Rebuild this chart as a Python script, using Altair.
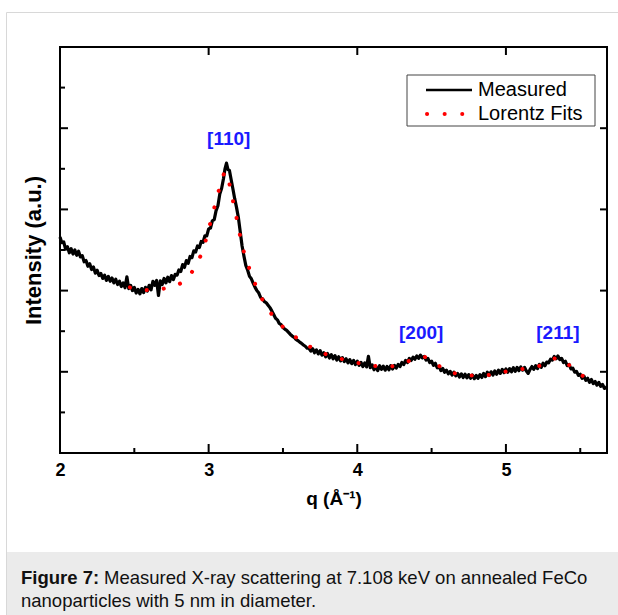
import altair as alt
import pandas as pd

# ---------------- data ----------------
q_meas = [
    2.0000, 2.0125, 2.0250, 2.0375, 2.0500, 2.0625, 2.0750, 2.0875,
    2.1000, 2.1125, 2.1250, 2.1375, 2.1500, 2.1625, 2.1750, 2.1875,
    2.2000, 2.2125, 2.2250, 2.2375, 2.2500, 2.2625, 2.2750, 2.2875,
    2.3000, 2.3125, 2.3250, 2.3375, 2.3500, 2.3625, 2.3750, 2.3875,
    2.4000, 2.4125, 2.4250, 2.4375, 2.4500, 2.4625, 2.4750, 2.4875,
    2.5000, 2.5125, 2.5250, 2.5375, 2.5500, 2.5625, 2.5750, 2.5875,
    2.6000, 2.6125, 2.6250, 2.6375, 2.6500, 2.6625, 2.6750, 2.6875,
    2.7000, 2.7125, 2.7250, 2.7375, 2.7500, 2.7625, 2.7750, 2.7875,
    2.8000, 2.8125, 2.8250, 2.8375, 2.8500, 2.8625, 2.8750, 2.8875,
    2.9000, 2.9125, 2.9250, 2.9375, 2.9500, 2.9625, 2.9750, 2.9875,
    3.0000, 3.0125, 3.0250, 3.0375, 3.0500, 3.0625, 3.0750, 3.0875,
    3.1000, 3.1100, 3.1200, 3.1300, 3.1400, 3.1500, 3.1625, 3.1750,
    3.1875, 3.2000, 3.2125, 3.2250, 3.2375, 3.2500, 3.2625, 3.2750,
    3.2875, 3.3000, 3.3125, 3.3250, 3.3375, 3.3500, 3.3625, 3.3750,
    3.3875, 3.4000, 3.4125, 3.4250, 3.4375, 3.4500, 3.4625, 3.4750,
    3.4875, 3.5000, 3.5125, 3.5250, 3.5375, 3.5500, 3.5625, 3.5750,
    3.5875, 3.6000, 3.6125, 3.6250, 3.6375, 3.6500, 3.6625, 3.6750,
    3.6875, 3.7000, 3.7125, 3.7250, 3.7375, 3.7500, 3.7625, 3.7750,
    3.7875, 3.8000, 3.8125, 3.8250, 3.8375, 3.8500, 3.8625, 3.8750,
    3.8875, 3.9000, 3.9125, 3.9250, 3.9375, 3.9500, 3.9625, 3.9750,
    3.9875, 4.0000, 4.0125, 4.0250, 4.0375, 4.0500, 4.0625, 4.0750,
    4.0875, 4.1000, 4.1125, 4.1250, 4.1375, 4.1500, 4.1625, 4.1750,
    4.1875, 4.2000, 4.2125, 4.2250, 4.2375, 4.2500, 4.2625, 4.2750,
    4.2875, 4.3000, 4.3125, 4.3250, 4.3375, 4.3500, 4.3625, 4.3750,
    4.3875, 4.4000, 4.4125, 4.4250, 4.4375, 4.4500, 4.4625, 4.4750,
    4.4875, 4.5000, 4.5125, 4.5250, 4.5375, 4.5500, 4.5625, 4.5750,
    4.5875, 4.6000, 4.6125, 4.6250, 4.6375, 4.6500, 4.6625, 4.6750,
    4.6875, 4.7000, 4.7125, 4.7250, 4.7375, 4.7500, 4.7625, 4.7750,
    4.7875, 4.8000, 4.8125, 4.8250, 4.8375, 4.8500, 4.8625, 4.8750,
    4.8875, 4.9000, 4.9125, 4.9250, 4.9375, 4.9500, 4.9625, 4.9750,
    4.9875, 5.0000, 5.0125, 5.0250, 5.0375, 5.0500, 5.0625, 5.0750,
    5.0875, 5.1000, 5.1125, 5.1250, 5.1375, 5.1500, 5.1625, 5.1750,
    5.1875, 5.2000, 5.2125, 5.2250, 5.2375, 5.2500, 5.2625, 5.2750,
    5.2875, 5.3000, 5.3125, 5.3250, 5.3375, 5.3500, 5.3625, 5.3750,
    5.3875, 5.4000, 5.4125, 5.4250, 5.4375, 5.4500, 5.4625, 5.4750,
    5.4875, 5.5000, 5.5125, 5.5250, 5.5375, 5.5500, 5.5625, 5.5750,
    5.5875, 5.6000, 5.6125, 5.6250, 5.6375, 5.6500, 5.6625, 5.6750,
]
i_meas = [
    5.32, 5.18, 5.20, 5.02, 5.08, 4.93, 5.03, 4.90,
    5.00, 4.87, 4.97, 4.83, 4.86, 4.71, 4.74, 4.60,
    4.66, 4.52, 4.58, 4.43, 4.50, 4.37, 4.42, 4.30,
    4.38, 4.25, 4.35, 4.23, 4.31, 4.19, 4.28, 4.15,
    4.23, 4.10, 4.19, 4.07, 4.34, 4.05, 4.13, 4.00,
    4.08, 3.94, 4.03, 3.92, 4.05, 3.95, 4.08, 3.99,
    4.13, 4.02, 4.23, 4.13, 4.25, 3.88, 4.24, 4.15,
    4.30, 4.19, 4.33, 4.22, 4.37, 4.27, 4.40, 4.38,
    4.51, 4.47, 4.64, 4.57, 4.74, 4.67, 4.84, 4.81,
    4.98, 4.95, 5.10, 5.06, 5.21, 5.19, 5.35, 5.35,
    5.52, 5.54, 5.72, 5.75, 5.97, 6.09, 6.38, 6.52,
    6.76, 7.00, 7.14, 6.98, 6.96, 6.76, 6.52, 6.27,
    6.05, 5.80, 5.45, 5.10, 4.85, 4.62, 4.50, 4.35,
    4.29, 4.18, 4.08, 4.00, 3.94, 3.83, 3.80, 3.73,
    3.70, 3.64, 3.58, 3.50, 3.41, 3.32, 3.28, 3.19,
    3.16, 3.09, 3.05, 3.02, 2.97, 2.92, 2.88, 2.85,
    2.80, 2.77, 2.73, 2.70, 2.66, 2.63, 2.58, 2.58,
    2.51, 2.57, 2.47, 2.54, 2.44, 2.52, 2.41, 2.47,
    2.37, 2.45, 2.34, 2.42, 2.32, 2.40, 2.29, 2.37,
    2.27, 2.35, 2.25, 2.32, 2.22, 2.30, 2.20, 2.28,
    2.18, 2.26, 2.16, 2.23, 2.13, 2.22, 2.12, 2.38,
    2.10, 2.17, 2.05, 2.13, 2.03, 2.15, 2.06, 2.14,
    2.04, 2.13, 2.05, 2.15, 2.07, 2.16, 2.09, 2.18,
    2.13, 2.23, 2.18, 2.28, 2.23, 2.33, 2.28, 2.36,
    2.31, 2.39, 2.33, 2.41, 2.34, 2.38, 2.29, 2.33,
    2.23, 2.26, 2.16, 2.21, 2.10, 2.13, 2.03, 2.08,
    1.99, 2.04, 1.95, 2.01, 1.92, 1.99, 1.90, 1.96,
    1.87, 1.95, 1.86, 1.94, 1.85, 1.93, 1.84, 1.92,
    1.83, 1.91, 1.84, 1.93, 1.86, 1.96, 1.88, 1.99,
    1.91, 2.00, 1.92, 2.02, 1.94, 2.04, 1.96, 2.06,
    1.98, 2.07, 1.99, 2.08, 2.00, 2.10, 2.01, 2.11,
    2.03, 2.12, 2.04, 2.11, 2.02, 1.96, 2.06, 2.13,
    2.06, 2.15, 2.08, 2.18, 2.11, 2.21, 2.15, 2.24,
    2.22, 2.31, 2.29, 2.38, 2.32, 2.39, 2.30, 2.33,
    2.23, 2.26, 2.15, 2.18, 2.07, 2.09, 1.99, 2.01,
    1.91, 1.94, 1.84, 1.89, 1.79, 1.84, 1.74, 1.81,
    1.71, 1.76, 1.67, 1.74, 1.64, 1.69, 1.59, 1.63,
]
q_fit = [2.47, 2.55, 2.62, 2.70, 2.76, 2.82, 2.87, 2.90, 2.93, 2.96,
         2.99, 3.02, 3.05, 3.08, 3.10, 3.115, 3.13, 3.15, 3.17, 3.19,
         3.21, 3.23, 3.25, 3.28, 3.32, 3.37, 3.42, 3.48, 3.55, 3.62,
         3.70, 3.80, 3.90, 4.00, 4.10, 4.20, 4.28, 4.35, 4.40, 4.44,
         4.48, 4.53, 4.58, 4.65, 4.75, 4.85, 4.95, 5.05, 5.15, 5.22,
         5.28, 5.33, 5.36, 5.40, 5.45, 5.50, 5.55]
i_fit = [4.08, 4.02, 4.01, 4.05, 4.11, 4.20, 4.37, 4.53, 4.74, 4.98,
         5.37, 5.79, 6.21, 6.62, 6.85, 6.93, 6.78, 6.45, 6.10, 5.75,
         5.38, 5.05, 4.80, 4.48, 4.10, 3.72, 3.44, 3.18, 2.95, 2.77,
         2.58, 2.42, 2.31, 2.22, 2.15, 2.13, 2.17, 2.27, 2.34, 2.37,
         2.33, 2.20, 2.07, 1.97, 1.91, 1.91, 1.97, 2.04, 2.09, 2.14,
         2.22, 2.33, 2.34, 2.25, 2.08, 1.94, 1.83]

peak_labels = ["[110]", "[200]", "[211]"]
peak_q = [3.135, 4.43, 5.35]
peak_i = [7.73, 2.96, 2.96]

x_major = [2, 3, 4, 5]
x_minor = [2.5, 3.5, 4.5, 5.5]
x_top = [3, 4, 5]
y_major = [2, 4, 6, 8]
y_minor = [1, 3, 5, 7, 9]

series_names = ["Measured", "Lorentz Fits"]
caption_bold = ["Figure 7:"]
caption_l1 = ["Measured X-ray scattering at 7.108 keV on annealed FeCo"]
caption_l2 = ["nanoparticles with 5 nm in diameter."]

# ---------------- layout ----------------
W, H = 547, 406
PL, PT = 60, 47
FONT = "Liberation Sans"
xs = alt.Scale(domain=[2, 5.68], nice=False, zero=False)
ys = alt.Scale(domain=[0, 10], nice=False, zero=False)

X_AXIS = alt.Axis(
    values=x_major, format="d", ticks=False, domain=False, grid=False,
    labelFont=FONT, labelFontSize=18, labelFontWeight="bold", labelColor="black",
    labelPadding=8, labelFlush=False,
    title="q (Å⁻¹)", titleFont=FONT, titleFontSize=19, titleFontWeight="bold",
    titleColor="black", titlePadding=10)
Y_AXIS = alt.Axis(
    labels=False, ticks=False, domain=False, grid=False,
    title="Intensity (a.u.)", titleFont=FONT, titleFontSize=22, titleFontWeight="bold",
    titleColor="black", titlePadding=15)


def X(field):
    return alt.X(f"{field}:Q", scale=xs, axis=X_AXIS)


def Y(field):
    return alt.Y(f"{field}:Q", scale=ys, axis=Y_AXIS)


meas = pd.DataFrame({"q": q_meas, "I": i_meas})
fit = pd.DataFrame({"q": q_fit, "I": i_fit})
peaks = pd.DataFrame({"q": peak_q, "I": peak_i, "label": peak_labels})


def one(txt):
    return pd.DataFrame({"t": txt})


# figure card outline and caption band
card = alt.Chart(one([""])).mark_rect(
    fill="transparent", stroke="#d8d8d8", strokeWidth=1
).encode(
    x=alt.value(6.5 - PL), x2=alt.value(640 - PL),
    y=alt.value(12.5 - PT), y2=alt.value(640 - PT),
)
band = alt.Chart(one([""])).mark_rect(fill="#ebebeb").encode(
    x=alt.value(7 - PL), x2=alt.value(640 - PL),
    y=alt.value(552 - PT), y2=alt.value(640 - PT),
)
cap_b = alt.Chart(one(caption_bold)).mark_text(
    font=FONT, fontSize=18.5, fontWeight="bold", align="left", baseline="middle", color="#111"
).encode(x=alt.value(21 - PL), y=alt.value(578 - PT), text="t:N")
cap_1 = alt.Chart(one(caption_l1)).mark_text(
    font=FONT, fontSize=18.5, align="left", baseline="middle", color="#111"
).encode(x=alt.value(104 - PL), y=alt.value(578 - PT), text="t:N")
cap_2 = alt.Chart(one(caption_l2)).mark_text(
    font=FONT, fontSize=18.5, align="left", baseline="middle", color="#111"
).encode(x=alt.value(21 - PL), y=alt.value(601 - PT), text="t:N")

# data layers
line = alt.Chart(meas).mark_line(color="black", strokeWidth=3.2, strokeJoin="round").encode(
    x=X("q"), y=Y("I"))
fitline = alt.Chart(fit).mark_line(
    color="#ff0000", strokeWidth=4, strokeDash=[0.1, 17], strokeCap="round", interpolate="monotone"
).encode(x=X("q"), y=Y("I"))
labels = alt.Chart(peaks).mark_text(
    font=FONT, fontSize=19, fontWeight="bold", color="#1a1aff", baseline="middle"
).encode(x=X("q"), y=Y("I"), text="label:N")


def xticks(vals, y0, y1):
    return alt.Chart(pd.DataFrame({"q": vals})).mark_rule(color="black", strokeWidth=2).encode(
        x=X("q"), y=alt.value(y0), y2=alt.value(y1))


def yticks(vals, x0, x1):
    return alt.Chart(pd.DataFrame({"I": vals})).mark_rule(color="black", strokeWidth=2).encode(
        y=Y("I"), x=alt.value(x0), x2=alt.value(x1))


ticks = [
    xticks(x_major, H, H - 9),
    xticks(x_minor, H, H - 5),
    xticks(x_top, 0, 8),
    yticks(y_major, 0, 8),
    yticks(y_minor, 0, 5),
    yticks(y_major, W, W - 7),
]

# legend box
leg_box = alt.Chart(one([""])).mark_rect(fill="white", stroke="#444", strokeWidth=1).encode(
    x=alt.value(407 - PL), x2=alt.value(595 - PL), y=alt.value(75 - PT), y2=alt.value(126 - PT))
leg_l1 = alt.Chart(one([series_names[0]])).mark_rule(color="black", strokeWidth=2.5).encode(
    x=alt.value(426 - PL), x2=alt.value(472 - PL), y=alt.value(90 - PT))
leg_l2 = alt.Chart(one([series_names[1]])).mark_rule(
    color="#ff0000", strokeWidth=4, strokeDash=[0.1, 17.5], strokeCap="round").encode(
    x=alt.value(427 - PL), x2=alt.value(472 - PL), y=alt.value(114 - PT))
leg_t1 = alt.Chart(one([series_names[0]])).mark_text(
    font=FONT, fontSize=20, align="left", baseline="middle", color="black").encode(
    x=alt.value(478 - PL), y=alt.value(90 - PT), text="t:N")
leg_t2 = alt.Chart(one([series_names[1]])).mark_text(
    font=FONT, fontSize=20, align="left", baseline="middle", color="black").encode(
    x=alt.value(478 - PL), y=alt.value(114 - PT), text="t:N")

chart = alt.layer(
    line, fitline, labels, *ticks,
    card, band, cap_b, cap_1, cap_2,
    leg_box, leg_l1, leg_l2, leg_t1, leg_t2,
).properties(
    width=W, height=H,
    padding={"left": PL, "top": PT, "right": 618 - PL - W, "bottom": 615 - PT - H},
    autosize=alt.AutoSizeParams(type="none"),
).configure_view(stroke="black", strokeWidth=2).configure_axis(grid=False)

chart.save("out.html", embed_options={"renderer": "svg", "actions": False})
